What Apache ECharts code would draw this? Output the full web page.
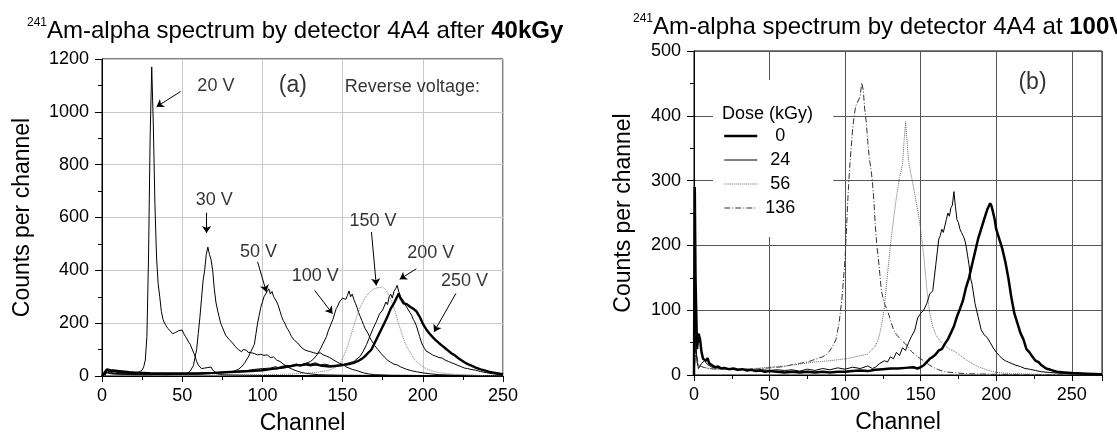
<!DOCTYPE html>
<html>
<head>
<meta charset="utf-8">
<script src="https://cdn.jsdelivr.net/npm/echarts@6/dist/echarts.min.js"></script>
<style>
  html, body { margin: 0; padding: 0; background: #fff; }
  #chart { width: 1117px; height: 444px; }
</style>
</head>
<body>
<div id="chart"></div>
<script>
// ---- panel (a): 40 kGy, different reverse voltages ----  [channel, counts]
const v20 = [[0,0],[2,2],[3,25],[5,20],[7,22],[9,15],[11,14],[13,10],[15,12],[17,9],[19,11],[21,10],[23,14],[25,22],[26,35],[27,60],[28,150],[29,450],[30,900],[31,1170],[32,950],[33,650],[34,450],[35,350],[36,300],[37,245],[38,215],[39,200],[40,190],[41,180],[42,175],[43,168],[44,160],[45,158],[46,165],[47,158],[48,172],[49,166],[50,174],[51,160],[52,150],[53,140],[54,128],[55,120],[56,105],[57,90],[58,75],[59,55],[60,42],[61,35],[62,28],[63,25],[64,30],[65,35],[66,32],[67,30],[68,34],[69,22],[70,15],[72,8],[75,5],[80,4],[90,3],[100,2],[120,2],[150,1],[200,1],[250,0]];
const v30 = [[0,0],[2,2],[3,20],[5,15],[8,10],[12,8],[16,6],[20,7],[25,5],[30,5],[35,6],[40,5],[45,6],[50,8],[53,10],[55,18],[57,40],[59,100],[60,160],[61,220],[62,290],[63,360],[64,400],[65,460],[66,488],[67,460],[68,440],[69,400],[70,330],[71,280],[72,250],[73,225],[74,200],[75,185],[76,170],[77,155],[78,150],[79,140],[80,138],[81,128],[82,130],[83,112],[84,118],[85,100],[86,105],[87,92],[88,100],[89,95],[90,98],[91,90],[92,95],[93,88],[94,92],[95,85],[96,88],[97,80],[99,82],[101,78],[103,80],[105,70],[107,72],[109,60],[111,55],[113,45],[115,38],[117,30],[119,25],[121,20],[124,14],[127,10],[130,8],[135,5],[140,4],[150,3],[170,2],[200,1],[250,0]];
const v50 = [[0,0],[3,15],[6,10],[10,8],[15,6],[20,5],[30,5],[40,5],[50,6],[60,6],[65,8],[70,10],[75,12],[80,15],[83,20],[85,25],[87,35],[89,50],[91,70],[93,95],[95,120],[96,160],[97,200],[98,230],[99,260],[100,280],[101,300],[102,295],[103,320],[104,330],[105,310],[106,320],[107,300],[108,295],[109,280],[110,265],[111,245],[112,225],[113,210],[114,200],[115,185],[116,175],[117,165],[118,150],[119,145],[120,135],[121,128],[122,125],[123,118],[124,110],[125,112],[126,100],[127,102],[128,95],[130,92],[132,88],[134,85],[136,88],[138,80],[140,75],[142,70],[144,62],[146,55],[148,48],[150,45],[152,35],[154,30],[156,25],[158,22],[160,18],[163,12],[166,8],[170,5],[180,3],[200,2],[250,0]];
const v100 = [[0,0],[3,12],[6,8],[10,7],[20,6],[30,6],[40,7],[50,8],[60,10],[70,12],[80,15],[90,18],[100,22],[105,25],[110,28],[115,32],[120,38],[124,42],[127,48],[130,55],[132,65],[134,80],[136,100],[138,125],[140,150],[141,170],[142,185],[143,200],[144,215],[145,235],[146,255],[147,265],[148,280],[149,285],[150,295],[151,300],[152,290],[153,305],[154,322],[155,300],[156,310],[157,290],[158,275],[159,260],[160,240],[161,225],[162,210],[163,195],[164,180],[165,170],[166,160],[167,145],[168,135],[169,125],[170,115],[172,100],[174,85],[176,72],[178,60],[180,52],[182,45],[184,42],[186,35],[188,30],[190,25],[193,20],[196,16],[200,12],[205,8],[210,5],[220,3],[250,1]];
const v150 = [[0,0],[5,3],[20,3],[50,3],[80,4],[100,5],[110,6],[120,8],[125,10],[130,12],[135,15],[140,20],[143,25],[146,35],[149,55],[151,80],[153,110],[155,150],[157,190],[159,230],[161,260],[163,285],[165,305],[167,318],[169,328],[171,333],[173,335],[175,337],[177,325],[179,305],[181,275],[183,240],[185,195],[187,160],[189,125],[191,100],[193,80],[195,62],[197,50],[199,40],[202,28],[205,20],[210,13],[215,9],[220,6],[230,3],[240,1],[250,0]];
const v200 = [[0,0],[3,20],[5,18],[8,15],[12,12],[16,10],[20,8],[25,8],[30,7],[40,8],[50,9],[60,10],[70,13],[80,16],[90,20],[95,25],[100,28],[105,30],[108,35],[110,32],[113,38],[116,40],[118,36],[121,45],[124,42],[127,48],[130,45],[133,50],[136,42],[139,45],[142,40],[145,38],[148,40],[151,45],[154,50],[157,55],[159,65],[161,75],[163,95],[165,120],[167,150],[169,180],[171,205],[173,235],[175,250],[177,280],[178,270],[179,300],[180,310],[181,295],[182,320],[183,330],[184,343],[185,320],[186,300],[187,295],[188,285],[189,270],[190,260],[191,250],[192,240],[193,230],[194,215],[195,205],[196,190],[197,170],[198,150],[199,130],[200,115],[201,105],[202,95],[204,88],[206,80],[208,75],[210,70],[212,68],[214,60],[216,55],[218,50],[220,45],[222,40],[224,35],[226,30],[228,28],[230,25],[233,22],[236,17],[240,12],[244,8],[248,5],[250,3]];
const v250 = [[0,0],[3,25],[5,22],[8,20],[11,18],[14,16],[17,14],[20,13],[25,12],[30,11],[40,10],[50,10],[60,10],[70,12],[80,15],[90,18],[95,20],[100,22],[105,26],[110,30],[115,35],[118,38],[121,42],[124,40],[127,44],[130,40],[133,44],[136,40],[139,38],[142,36],[145,38],[148,40],[151,42],[154,45],[157,50],[160,58],[162,65],[164,75],[166,88],[168,100],[170,125],[172,150],[174,175],[176,200],[178,225],[180,255],[182,275],[184,300],[185,312],[186,295],[187,285],[188,275],[189,270],[190,272],[191,265],[192,262],[193,260],[194,255],[195,250],[196,245],[197,238],[198,225],[199,212],[200,198],[201,188],[202,178],[204,162],[206,148],[208,136],[210,125],[212,115],[214,105],[216,95],[218,85],[220,78],[222,68],[224,60],[226,52],[228,45],[230,40],[233,32],[236,25],[239,20],[242,15],[245,12],[248,9],[250,7]];

// ---- panel (b): 100 V, different doses ----
const d0 = [[0,0],[0.5,290],[1,150],[2,40],[3,64],[4,55],[5,35],[6,25],[7,28],[8,22],[9,26],[10,18],[12,15],[14,12],[16,13],[18,10],[20,11],[23,9],[26,10],[29,8],[32,9],[35,7],[38,8],[41,6],[44,7],[47,5],[50,6],[55,5],[60,4],[65,5],[70,4],[75,5],[80,4],[85,5],[90,4],[95,5],[100,5],[105,6],[110,7],[115,6],[120,8],[125,9],[130,10],[135,10],[140,11],[145,12],[148,10],[150,12],[152,15],[154,20],[156,25],[158,28],[160,32],[162,38],[164,40],[166,48],[168,55],[170,65],[172,75],[174,90],[176,102],[178,115],[180,135],[182,150],[184,170],[186,190],[188,210],[190,225],[192,240],[194,255],[196,265],[197,260],[198,250],[199,240],[200,225],[201,222],[202,210],[204,195],[206,175],[208,150],[210,120],[212,95],[214,80],[216,65],[218,55],[220,40],[222,35],[224,28],[226,22],[228,20],[230,15],[233,10],[236,8],[240,5],[245,4],[250,3],[260,2],[270,1]];
const d24 = [[0,0],[1,60],[2,20],[3,10],[5,18],[7,22],[9,16],[12,12],[15,11],[20,10],[25,9],[30,8],[35,9],[40,7],[45,8],[50,7],[55,8],[60,7],[65,8],[70,6],[75,9],[80,7],[85,10],[90,8],[95,11],[100,9],[105,12],[110,10],[115,14],[118,10],[120,12],[123,18],[126,22],[128,20],[130,28],[132,25],[134,35],[136,30],[138,42],[140,38],[142,50],[144,60],[146,68],[148,88],[150,95],[152,100],[154,110],[156,125],[158,130],[159,150],[160,170],[161,190],[162,210],[163,215],[164,225],[165,220],[166,230],[167,240],[168,250],[169,245],[170,258],[171,262],[172,283],[173,260],[174,240],[175,235],[176,225],[177,220],[178,215],[179,210],[180,200],[181,185],[182,170],[183,150],[184,140],[185,125],[186,110],[187,100],[188,90],[189,80],[190,70],[192,62],[194,58],[196,50],[198,42],[200,35],[202,30],[204,25],[206,22],[208,20],[210,18],[213,15],[216,13],[219,10],[222,9],[226,7],[230,5],[235,4],[240,3],[250,2],[270,1]];
const d56 = [[0,0],[1,30],[3,15],[6,12],[10,10],[15,9],[20,10],[30,9],[40,10],[50,12],[60,14],[70,17],[80,20],[90,22],[100,25],[105,27],[110,30],[115,32],[118,40],[120,45],[122,55],[124,75],[126,105],[128,155],[130,200],[132,240],[134,275],[136,305],[138,325],[139,360],[140,391],[141,360],[142,330],[144,305],[146,280],[148,255],[150,225],[152,185],[154,135],[156,95],[158,75],[160,62],[163,52],[166,45],[169,40],[172,37],[175,32],[178,27],[181,22],[184,18],[187,14],[190,11],[195,7],[200,4],[210,2],[230,1],[270,0]];
const d136 = [[0,0],[1,40],[3,15],[6,12],[10,10],[15,9],[20,9],[30,8],[40,9],[50,11],[60,13],[65,16],[70,18],[75,20],[80,24],[85,28],[88,32],[90,38],[92,45],[94,55],[96,80],[98,120],[100,180],[101,230],[102,280],[103,320],[104,350],[105,380],[106,400],[107,415],[108,420],[109,418],[110,430],[111,451],[112,440],[113,410],[114,390],[115,360],[116,335],[117,320],[118,300],[119,270],[120,230],[121,200],[122,180],[123,155],[124,130],[125,120],[126,110],[128,100],[130,85],[132,70],[134,62],[136,57],[138,52],[140,48],[142,42],[144,36],[146,32],[148,28],[150,25],[153,20],[156,15],[159,11],[162,8],[166,5],[170,4],[180,2],[200,1],[270,0]];
const doseNames = ['0', '24', '56', '136'];

// annotations of panel (a): [text, channel, counts]
const labelsA = [['20 V',71,1096],['30 V',70,665],['50 V',97.5,469],['100 V',133,379],['150 V',169,585],['200 V',205,467],['250 V',226,358],['Reverse voltage:',193.5,1094]];
const arrowsA = [[[49,1077],[34,1019]],[[65.2,618],[65.2,541]],[[97,432],[102.5,318]],[[132.6,324],[143.7,236]],[[168,545],[171,343]],[[196,406],[185.6,366]],[[220.6,312],[207,167]]];
const panelTags = [['(a)',119,1099,0],['(b)',224,451,1]];

const FONT = 'Liberation Sans, Arial, sans-serif';
// line look of each dose curve (also used for its legend sample)
const doseStyles = {
  '0':   { color: '#000', width: 2.5 },
  '24':  { color: '#000', width: 1 },
  '56':  { color: '#666', width: 1, type: 'dotted' },
  '136': { color: '#333', width: 1, type: [6, 2, 1, 2] }
};
let myChart = echarts.init(document.getElementById('chart'));

function xAx(idx, max, gridColor) {
  return {
    type: 'value', gridIndex: idx, min: 0, max: max, interval: 50,
    name: 'Channel', nameLocation: 'middle', nameGap: 36,
    nameTextStyle: { fontSize: 23, color: '#000' },
    axisLine: { onZero: false, lineStyle: { color: '#000' } },
    axisTick: { length: 6, lineStyle: { color: '#000' } },
    minorTick: { show: true, splitNumber: 2, length: 4, lineStyle: { color: '#000' } },
    axisLabel: { fontSize: 18, color: '#000', margin: 11, showMaxLabel: max === 250,
      formatter: v => String(v) },
    splitLine: { show: true, lineStyle: { color: gridColor } }
  };
}
function yAx(idx, max, interval, gridColor, gap) {
  return {
    type: 'value', gridIndex: idx, min: 0, max: max, interval: interval,
    name: 'Counts per channel', nameLocation: 'middle', nameGap: gap,
    nameTextStyle: { fontSize: 23, color: '#000' },
    axisLine: { show: true, lineStyle: { color: '#000' } },
    axisTick: { show: true, length: 7, lineStyle: { color: '#000' } },
    minorTick: { show: true, splitNumber: 2, length: 4, lineStyle: { color: '#000' } },
    axisLabel: { fontSize: 18, color: '#000', margin: 13, formatter: v => String(v) },
    splitLine: { show: true, lineStyle: { color: gridColor } }
  };
}
function spec(name, data, ax, style) {
  return {
    name: name, type: 'line', xAxisIndex: ax, yAxisIndex: ax, data: data,
    showSymbol: false, symbol: 'none', animation: false,
    itemStyle: { color: '#000' },
    lineStyle: Object.assign({ color: '#000', width: 1 }, style)
  };
}

const titleRich = {
  sup: { fontSize: 12, verticalAlign: 'top', lineHeight: 28, color: '#000', fontWeight: 'normal' },
  n: { fontSize: 24, lineHeight: 28, color: '#000', fontWeight: 'normal' },
  b: { fontSize: 24, lineHeight: 28, fontWeight: 'bold', color: '#000' }
};

myChart.setOption({
  animation: false,
  textStyle: { fontFamily: FONT },
  title: [
    { text: '{sup|241}{n|Am-alpha spectrum by detector 4A4 after }{b|40kGy}', left: 27, top: 17, padding: 0,
      textStyle: { rich: titleRich, fontFamily: FONT, fontWeight: 'normal' } },
    { text: '{sup|241}{n|Am-alpha spectrum by detector 4A4 at }{b|100V}', left: 633, top: 13, padding: 0,
      textStyle: { rich: titleRich, fontFamily: FONT, fontWeight: 'normal' } },
    { text: 'Dose (kGy)', left: 722, top: 105, padding: 0,
      textStyle: { fontSize: 18, fontWeight: 'normal', color: '#000', fontFamily: FONT } }
  ],
  legend: {
    data: doseNames.map(n => ({ name: 'dose' + n, lineStyle: doseStyles[n], itemStyle: { opacity: 0 } })),
    orient: 'vertical', left: 713, top: 80,
    padding: [47, 35, 20, 10], backgroundColor: '#fff', selectedMode: false,
    itemWidth: 33, itemHeight: 14, itemGap: 6,
    itemStyle: { opacity: 0 },
    formatter: function (n) { return '{c|' + n.replace('dose', '') + '}'; },
    textStyle: { fontSize: 18, color: '#000', lineHeight: 18,
      rich: { c: { width: 36, align: 'center', fontSize: 18, fontFamily: FONT } } }
  },
  grid: [
    { left: 102, right: 614, top: 59, bottom: 68, show: true, borderColor: '#000', borderWidth: 1 },
    { left: 694, right: 15, top: 51, bottom: 69, show: true, borderColor: '#000', borderWidth: 1 }
  ],
  xAxis: [xAx(0, 250, '#c8c8c8'), xAx(1, 270, '#555')],
  yAxis: [yAx(0, 1200, 200, '#c8c8c8', 68), yAx(1, 500, 100, '#555', 59)],
  series: [
    spec('20 V', v20, 0, {}),
    spec('30 V', v30, 0, {}),
    spec('50 V', v50, 0, {}),
    spec('100 V', v100, 0, {}),
    spec('150 V', v150, 0, { type: 'dotted', color: '#777' }),
    spec('200 V', v200, 0, {}),
    spec('250 V', v250, 0, { width: 2.4 }),
    spec('dose136', d136, 1, doseStyles['136']),
    spec('dose56', d56, 1, doseStyles['56']),
    spec('dose24', d24, 1, doseStyles['24']),
    spec('dose0', d0, 1, doseStyles['0']),
    {
      type: 'lines', coordinateSystem: 'cartesian2d', xAxisIndex: 0, yAxisIndex: 0,
      symbol: ['none', 'arrow'], symbolSize: 7,
      lineStyle: { color: '#000', width: 1, opacity: 1 },
      data: arrowsA.map(a => ({ coords: a }))
    },
    {
      type: 'scatter', xAxisIndex: 0, yAxisIndex: 0, symbolSize: 1,
      itemStyle: { color: 'rgba(0,0,0,0)' },
      label: { show: true, position: 'inside', formatter: '{b}', fontSize: 18, color: '#000' },
      data: labelsA.map(l => ({ name: l[0], value: [l[1], l[2]] }))
    },
    {
      type: 'scatter', xAxisIndex: 0, yAxisIndex: 0, symbolSize: 1,
      itemStyle: { color: 'rgba(0,0,0,0)' },
      label: { show: true, position: 'inside', formatter: '{b}', fontSize: 23, color: '#000' },
      data: panelTags.filter(t => t[3] === 0).map(t => ({ name: t[0], value: [t[1], t[2]] }))
    },
    {
      type: 'scatter', xAxisIndex: 1, yAxisIndex: 1, symbolSize: 1,
      itemStyle: { color: 'rgba(0,0,0,0)' },
      label: { show: true, position: 'inside', formatter: '{b}', fontSize: 23, color: '#000' },
      data: panelTags.filter(t => t[3] === 1).map(t => ({ name: t[0], value: [t[1], t[2]] }))
    }
  ]
});
</script>
</body>
</html>
